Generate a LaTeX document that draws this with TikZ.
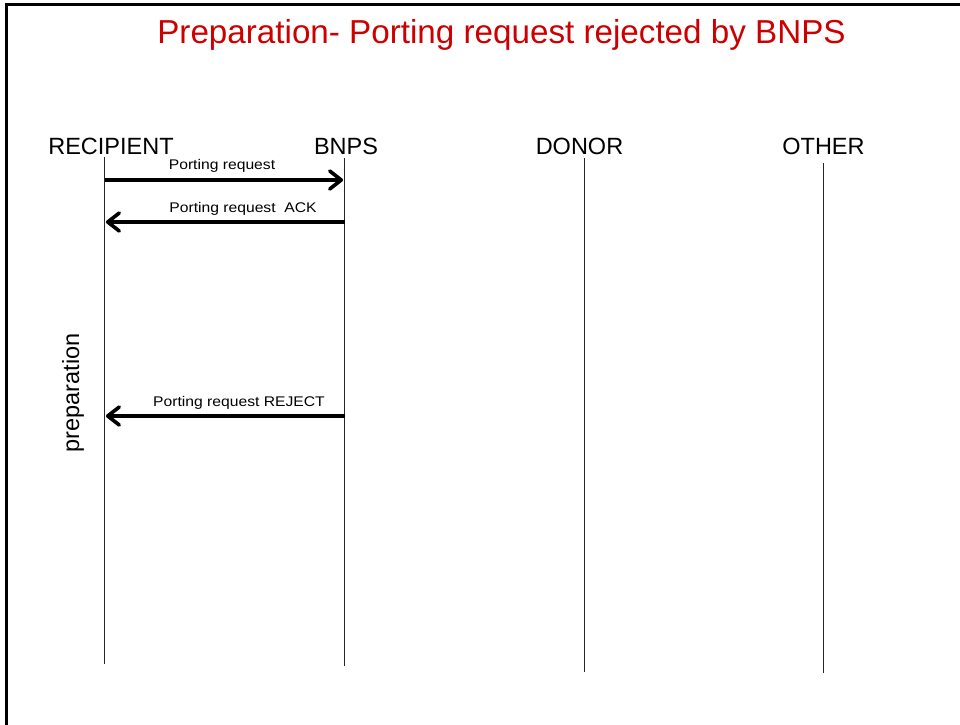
\documentclass[tikz,border=0pt]{standalone}
\usepackage{fontspec}
\setmainfont{Liberation Sans}
\newfontfamily\lblfont[FakeStretch=1.12]{Liberation Sans}
\usetikzlibrary{arrows.meta}
\definecolor{titlered}{RGB}{204,0,0}
\begin{document}
\begin{tikzpicture}[x=1pt,y=-1pt,
  lifelabel/.style={font=\fontsize{23.5}{26}\selectfont,anchor=base,inner sep=0pt},
  msglabel/.style={font=\lblfont\fontsize{14}{16}\selectfont,anchor=base,inner sep=0pt},
  lifeline/.style={line width=0.9pt,black!85},
  msgarrow/.style={line width=3.5pt,line cap=butt,-{Straight Barb[length=11.5pt,width=18pt,line cap=round,line join=round]}},
  msgshadow/.style={msgarrow,black!40}]
\useasboundingbox (0,0) rectangle (960,724);
% frame
\draw[line width=3pt] (6,726) -- (6,4.7) -- (962,4.7);
% title
\node[font=\fontsize{33.2}{36}\selectfont,text=titlered,anchor=base,inner sep=0pt] (title) at (501.5,43) {Preparation- Porting request rejected by BNPS};
% lifeline labels
\node[lifelabel] (rec) at (111,154) {RECIPIENT};
\node[lifelabel] (bnps) at (346,154) {BNPS};
\node[lifelabel] (don) at (579.5,154) {DONOR};
\node[lifelabel] (oth) at (823.5,154) {OTHER};
% lifelines
\coordinate (recT) at (104.5,157); \coordinate (recB) at (104.5,664);
\coordinate (bnT) at (344.5,158); \coordinate (bnB) at (344.5,666);
\coordinate (doT) at (584,158); \coordinate (doB) at (584,672);
\coordinate (otT) at (823.5,163); \coordinate (otB) at (823.5,673);
\draw[lifeline] (recT) -- (recB);
\draw[lifeline] (bnT) -- (bnB);
\draw[lifeline] (doT) -- (doB);
\draw[lifeline] (otT) -- (otB);
% message endpoints
\coordinate (r1) at (104.5,180); \coordinate (b1) at (343,180);
\coordinate (r2) at (106,222); \coordinate (b2) at (344.5,222);
\coordinate (r3) at (106,416); \coordinate (b3) at (344.5,416);
% shadows
\begin{scope}[xshift=1.2pt,yshift=-2.2pt]
\draw[msgshadow] (r1) -- (b1);
\draw[msgshadow] (b2) -- (r2);
\draw[msgshadow] (b3) -- (r3);
\end{scope}
% arrows
\draw[msgarrow] (r1) -- (b1);
\draw[msgarrow] (b2) -- (r2);
\draw[msgarrow] (b3) -- (r3);
% message labels
\node[msglabel] (m1) at (222,169) {Porting request};
\node[msglabel] (m2) at (243,212) {Porting request\ \ ACK};
\node[msglabel] (m3) at (239,406) {Porting request REJECT};
% side label
\node[font=\fontsize{23.5}{26}\selectfont,rotate=90,inner sep=0pt] (prep) at (73,393) {preparation};
\end{tikzpicture}
\end{document}
